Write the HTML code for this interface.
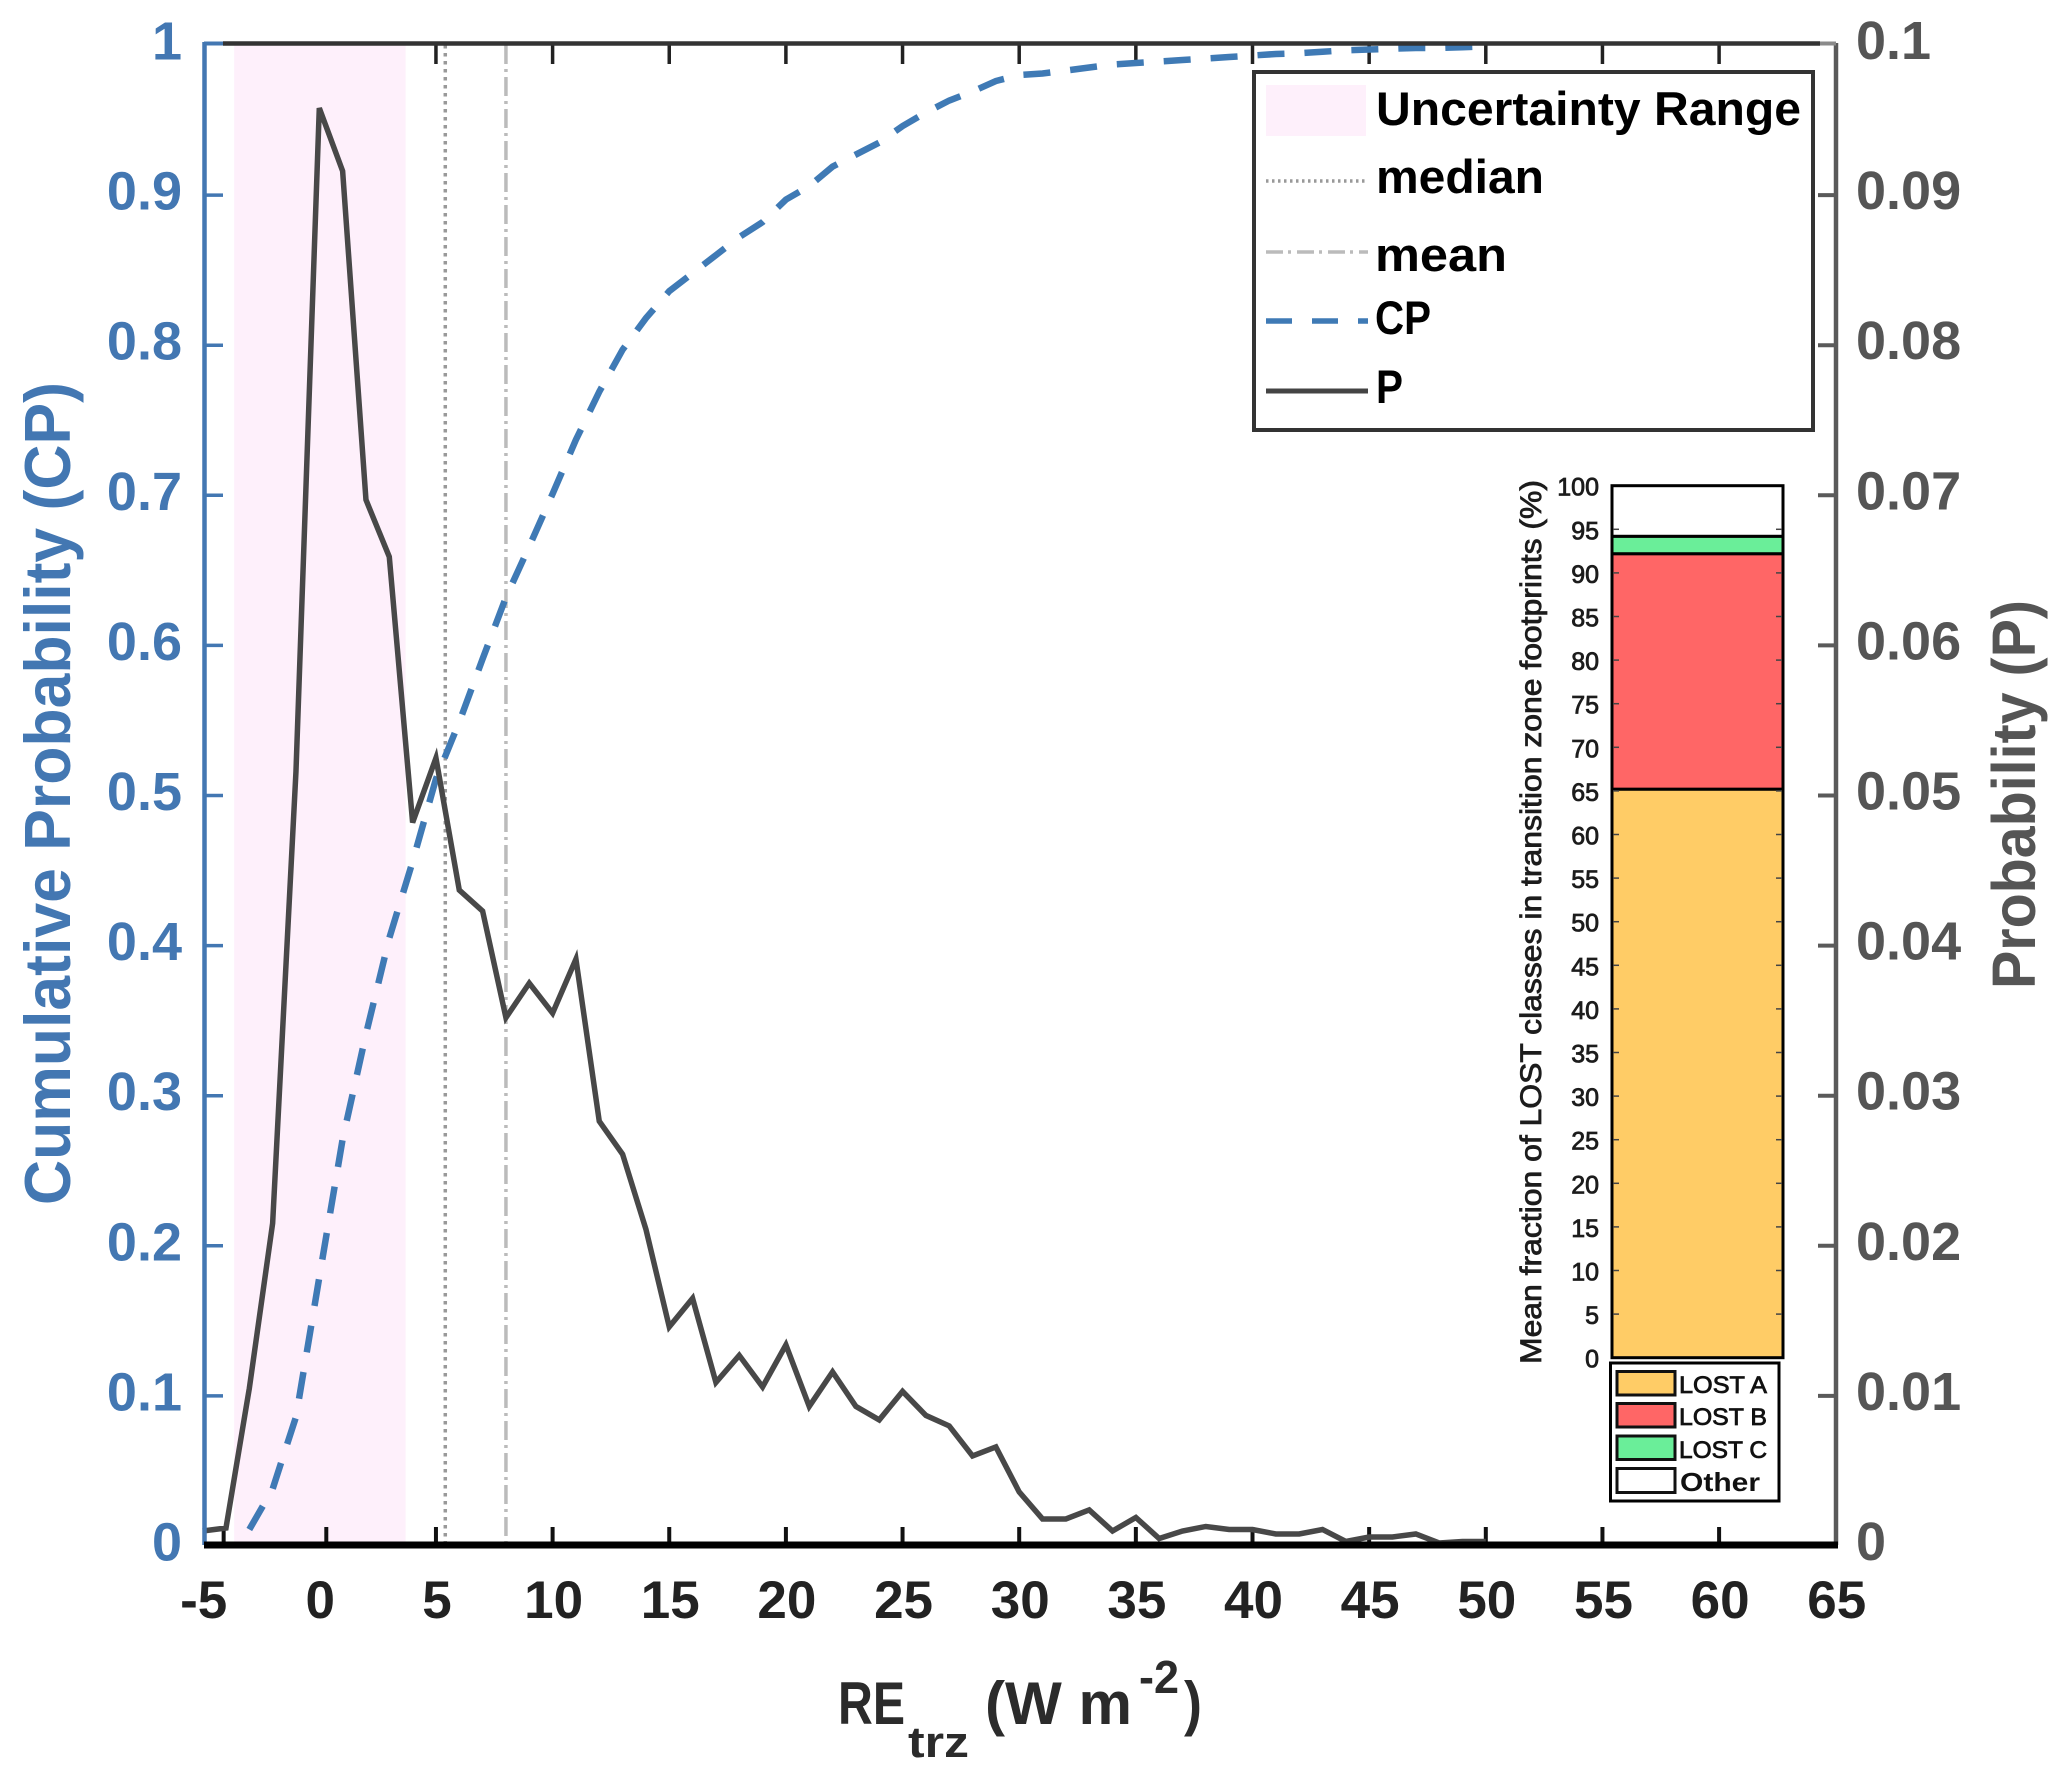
<!DOCTYPE html>
<html lang="en">
<head>
<meta charset="utf-8">
<title>Cumulative probability and probability of RE trz</title>
<style>
html,body{margin:0;padding:0;background:#fff;}
body{width:2067px;height:1778px;overflow:hidden;}
svg{display:block;font-family:"Liberation Sans",sans-serif;}
</style>
</head>
<body>
<svg id="chart" xmlns="http://www.w3.org/2000/svg" width="2067" height="1778" viewBox="0 0 2067 1778">
  <rect x="0" y="0" width="2067" height="1778" fill="#ffffff"/>
  <g id="plot"></g>

  <text transform="translate(70,1205) rotate(-90)" font-size="65" font-weight="700" fill="#4377b2" textLength="823" lengthAdjust="spacingAndGlyphs">Cumulative Probability (CP)</text>
  <text transform="translate(2035,989) rotate(-90)" font-size="61" font-weight="700" fill="#555555" textLength="389" lengthAdjust="spacingAndGlyphs">Probability (P)</text>

  <g font-weight="700" fill="#2b2b2b">
    <text x="838" y="1724" font-size="60" textLength="67" lengthAdjust="spacingAndGlyphs">RE</text>
    <text x="908" y="1757" font-size="44" textLength="61" lengthAdjust="spacingAndGlyphs">trz</text>
    <text x="985" y="1724" font-size="60" textLength="147" lengthAdjust="spacingAndGlyphs">(W m</text>
    <text x="1139" y="1693" font-size="46" textLength="40" lengthAdjust="spacingAndGlyphs">-2</text>
    <text x="1184" y="1724" font-size="60" textLength="18" lengthAdjust="spacingAndGlyphs">)</text>
  </g>

  <g>
    <rect x="1254" y="72" width="559" height="358" fill="#ffffff" stroke="#333333" stroke-width="4"/>
    <rect x="1266" y="85" width="100" height="51" fill="#fef0fb"/>
    <text x="1376" y="125" font-size="47" font-weight="700" fill="#000" textLength="425" lengthAdjust="spacingAndGlyphs">Uncertainty Range</text>
    <line x1="1266" x2="1368" y1="181" y2="181" stroke="#999" stroke-width="3.5" stroke-dasharray="2.5 3.5"/>
    <text x="1376" y="193" font-size="47" font-weight="700" fill="#000" textLength="168" lengthAdjust="spacingAndGlyphs">median</text>
    <line x1="1266" x2="1368" y1="252" y2="252" stroke="#bbb" stroke-width="3.5" stroke-dasharray="17 5 3 6"/>
    <text x="1375" y="271" font-size="47" font-weight="700" fill="#000" textLength="132" lengthAdjust="spacingAndGlyphs">mean</text>
    <line x1="1266" x2="1368" y1="321" y2="321" stroke="#3f7ab5" stroke-width="5.5" stroke-dasharray="26 20"/>
    <text x="1375" y="334" font-size="47" font-weight="700" fill="#000" textLength="56" lengthAdjust="spacingAndGlyphs">CP</text>
    <line x1="1266" x2="1368" y1="391" y2="391" stroke="#444" stroke-width="5"/>
    <text x="1376" y="403" font-size="47" font-weight="700" fill="#000" textLength="27" lengthAdjust="spacingAndGlyphs">P</text>
  </g>

  <g id="inset"></g>
  <text transform="translate(1541,1364) rotate(-90)" font-size="30" fill="#1c1c1c" stroke="#1c1c1c" stroke-width="0.8" textLength="884" lengthAdjust="spacingAndGlyphs">Mean fraction of LOST classes in transition zone footprints (%)</text>

  <g>
    <rect x="1610.5" y="1363" width="168.5" height="138" fill="#fff" stroke="#000" stroke-width="3"/>
    <rect x="1617" y="1371.5" width="58" height="23.5" fill="#ffcc66" stroke="#111" stroke-width="3"/>
    <text x="1679" y="1393" font-size="24" fill="#111" stroke="#111" stroke-width="0.8" textLength="88" lengthAdjust="spacingAndGlyphs">LOST A</text>
    <rect x="1617" y="1403.5" width="58" height="23.5" fill="#ff6666" stroke="#111" stroke-width="3"/>
    <text x="1679" y="1425" font-size="24" fill="#111" stroke="#111" stroke-width="0.8" textLength="88" lengthAdjust="spacingAndGlyphs">LOST B</text>
    <rect x="1617" y="1436" width="58" height="23.5" fill="#6aee99" stroke="#111" stroke-width="3"/>
    <text x="1679" y="1458" font-size="24" fill="#111" stroke="#111" stroke-width="0.8" textLength="88" lengthAdjust="spacingAndGlyphs">LOST C</text>
    <rect x="1617" y="1468.5" width="58" height="24" fill="#ffffff" stroke="#111" stroke-width="3"/>
    <text x="1680" y="1491" font-size="26" font-weight="700" fill="#111" textLength="80" lengthAdjust="spacingAndGlyphs">Other</text>
  </g>
</svg>

<script>
/* ---- main chart data ---- */
const reValues = [-5,-4,-3,-2,-1,0,1,2,3,4,5,6,7,8,9,10,11,12,13,14,15,16,17,18,19,20,21,22,23,24,25,26,27,28,29,30,31,32,33,34,35,36,37,38,39,40,41,42,43,44,45,46,47,48,49,50];
const probabilityValues = [.0010,.0012,.0105,.0215,.0516,.0958,.0916,.0697,.0659,.0482,.0525,.0437,.0423,.0352,.0375,.0355,.0391,.0283,.0261,.0211,.0146,.0165,.0109,.0127,.0106,.0134,.0093,.0116,.0093,.0084,.0103,.0087,.0080,.0060,.0066,.0036,.0018,.0018,.0024,.0010,.0019,.0005,.0010,.0013,.0011,.0011,.0008,.0008,.0011,.0003,.0006,.0006,.0008,.0002,.0003,.0003];
const cpReValues = [-3,-2,-1,0,1,2,3,4,5,6,7,8,9,10,11,12,13,14,15,16,17,18,19,20,21,22,23,24,25,26,27,28,29,30,31,32,33,34,35,36,37,38,39,40,41,42,43,44,45,46,47,48,49,50];
const cumulativeValues = [.011,.038,.086,.179,.271,.341,.405,.456,.511,.549,.591,.632,.666,.701,.737,.769,.797,.818,.836,.848,.860,.872,.882,.897,.906,.919,.927,.935,.946,.955,.963,.969,.976,.980,.981,.983,.985,.987,.988,.989,.990,.991,.992,.993,.994,.9945,.9955,.9965,.997,.9975,.998,.998,.9985,.999];
const uncertaintyRange = [-3.65, 3.7];
const medianValue = 5.4;
const meanValue = 8;
const xTickLabels = [-5,0,5,10,15,20,25,30,35,40,45,50,55,60,65];
const bottomTickValues = [-4.1,0.3,5,10,15,20,25,30,35,40,45,50,55,60];
const topTickValues = [5,10,15,20,25,30,35,40,45,50,55,60];
const leftTickLabels = ["0","0.1","0.2","0.3","0.4","0.5","0.6","0.7","0.8","0.9","1"];
const leftTickValues = [0,.1,.2,.3,.4,.5,.6,.7,.8,.9,1];
const rightTickLabels = ["0","0.01","0.02","0.03","0.04","0.05","0.06","0.07","0.08","0.09","0.1"];
const rightTickValues = [0,.01,.02,.03,.04,.05,.06,.07,.08,.09,.1];

/* ---- inset data ---- */
const insetClasses = ["lost-a","lost-b","lost-c","other"];
const insetFractions = [65.2,27,2,5.8];
const insetColors = ["#ffcc66","#ff6666","#6aee99","#ffffff"];
const insetTickValues = [0,5,10,15,20,25,30,35,40,45,50,55,60,65,70,75,80,85,90,95,100];

/* ---- axis functions ---- */
function xScale(v){ return 319.3 + 23.33 * v; }
function cpScale(v){ return 1546 - 1501 * v; }
function pScale(v){ return 1546 - 15010 * v; }
function insetScale(v){ return 1357.7 - 8.72 * v; }

const NS = "http://www.w3.org/2000/svg";
function make(tag, parent, attrs, text){
  const el = document.createElementNS(NS, tag);
  for (const k in attrs) el.setAttribute(k, attrs[k]);
  if (text !== undefined) el.textContent = text;
  parent.appendChild(el);
  return el;
}
const plot = document.getElementById("plot");
const inset = document.getElementById("inset");
let el;

/* uncertainty band */
el = make("rect", plot, {x:xScale(uncertaintyRange[0]), y:45, width:xScale(uncertaintyRange[1])-xScale(uncertaintyRange[0]), height:1497, fill:"#fef0fb"});



/* median and mean */
el = make("line", plot, {x1:xScale(medianValue), x2:xScale(medianValue), y1:45, y2:1542, stroke:"#999", "stroke-width":3.5, "stroke-dasharray":"3.5 4.5"});


el = make("line", plot, {x1:xScale(meanValue), x2:xScale(meanValue), y1:45, y2:1542, stroke:"#bbb", "stroke-width":3.5, "stroke-dasharray":"19 5 3 5"});



/* ticks along top and bottom */
topTickValues.forEach(function(v){
  const t = make("line", plot, {x1:xScale(v), x2:xScale(v), y1:44, y2:64, stroke:"#222", "stroke-width":3.5});
  
  
});
bottomTickValues.forEach(function(v){
  const t = make("line", plot, {x1:xScale(v), x2:xScale(v), y1:1527, y2:1545, stroke:"#111", "stroke-width":4});
  
  
});

/* CP curve */
el = make("polyline", plot, {points:cpReValues.map(function(x,i){return xScale(x)+","+cpScale(cumulativeValues[i]);}).join(" "), fill:"none", stroke:"#3f7ab5", "stroke-width":6.5, "stroke-dasharray":"27 20"});



/* P curve */
el = make("polyline", plot, {points:reValues.map(function(x,i){return xScale(x)+","+pScale(probabilityValues[i]);}).join(" "), fill:"none", stroke:"#484848", "stroke-width":5.5, "stroke-linejoin":"miter"});



/* axes */
el = make("line", plot, {x1:1836, x2:1836, y1:43, y2:1545, stroke:"#5a5a5a", "stroke-width":4.5});


el = make("line", plot, {x1:204.5, x2:204.5, y1:42, y2:1545, stroke:"#4377b2", "stroke-width":4.5});


el = make("line", plot, {x1:204, x2:223, y1:43.5, y2:43.5, stroke:"#4377b2", "stroke-width":4});


el = make("line", plot, {x1:1820, x2:1836, y1:43.5, y2:43.5, stroke:"#8a8a8a", "stroke-width":4});


el = make("line", plot, {x1:223, x2:1820, y1:43.5, y2:43.5, stroke:"#333", "stroke-width":4.5});


el = make("line", plot, {x1:204, x2:1838, y1:1545, y2:1545, stroke:"#000", "stroke-width":7});



/* left axis ticks and labels */
leftTickValues.forEach(function(v,i){
  if (v > 0 && v < 1) {
    const t = make("line", plot, {x1:204, x2:223, y1:cpScale(v), y2:cpScale(v), stroke:"#4377b2", "stroke-width":3.5});
    
    
  }
  const s = make("text", plot, {x:182, y:cpScale(v)+14.5, "text-anchor":"end", "font-size":54, "font-weight":700, fill:"#4377b2"}, leftTickLabels[i]);
  
  
});

/* right axis ticks and labels */
rightTickValues.forEach(function(v,i){
  if (v > 0 && v < .1) {
    const t = make("line", plot, {x1:1818, x2:1836, y1:pScale(v), y2:pScale(v), stroke:"#5a5a5a", "stroke-width":4});
    
    
  }
  const s = make("text", plot, {x:1856, y:pScale(v)+14, "font-size":54, "font-weight":700, fill:"#555555"}, rightTickLabels[i]);
  
  
});

/* x labels */
xTickLabels.forEach(function(v){
  const s = make("text", plot, {x:xScale(v)+1, y:1618, "text-anchor":"middle", "font-size":53, "font-weight":700, fill:"#222222"}, String(v));
  
  
});

/* inset stacked bar */
let stackBase = 0;
insetFractions.forEach(function(f,i){
  const r = make("rect", inset, {x:1612, y:insetScale(stackBase+f), width:171, height:insetScale(stackBase)-insetScale(stackBase+f), fill:insetColors[i], stroke:"#000", "stroke-width":3});
  
  
  stackBase += f;
});
insetTickValues.forEach(function(v){
  if (v > 0 && v < 100) {
    const a = make("line", inset, {x1:1613, x2:1619, y1:insetScale(v), y2:insetScale(v), stroke:"#444", "stroke-width":1.5});
    
    
    const b = make("line", inset, {x1:1776, x2:1782, y1:insetScale(v), y2:insetScale(v), stroke:"#444", "stroke-width":1.5});
    
    
  }
  const s = make("text", inset, {x:1599, y:insetScale(v)+10, "text-anchor":"end", "font-size":25, fill:"#1c1c1c", stroke:"#1c1c1c", "stroke-width":0.8}, String(v));
  
  
});
</script>
</body>
</html>
